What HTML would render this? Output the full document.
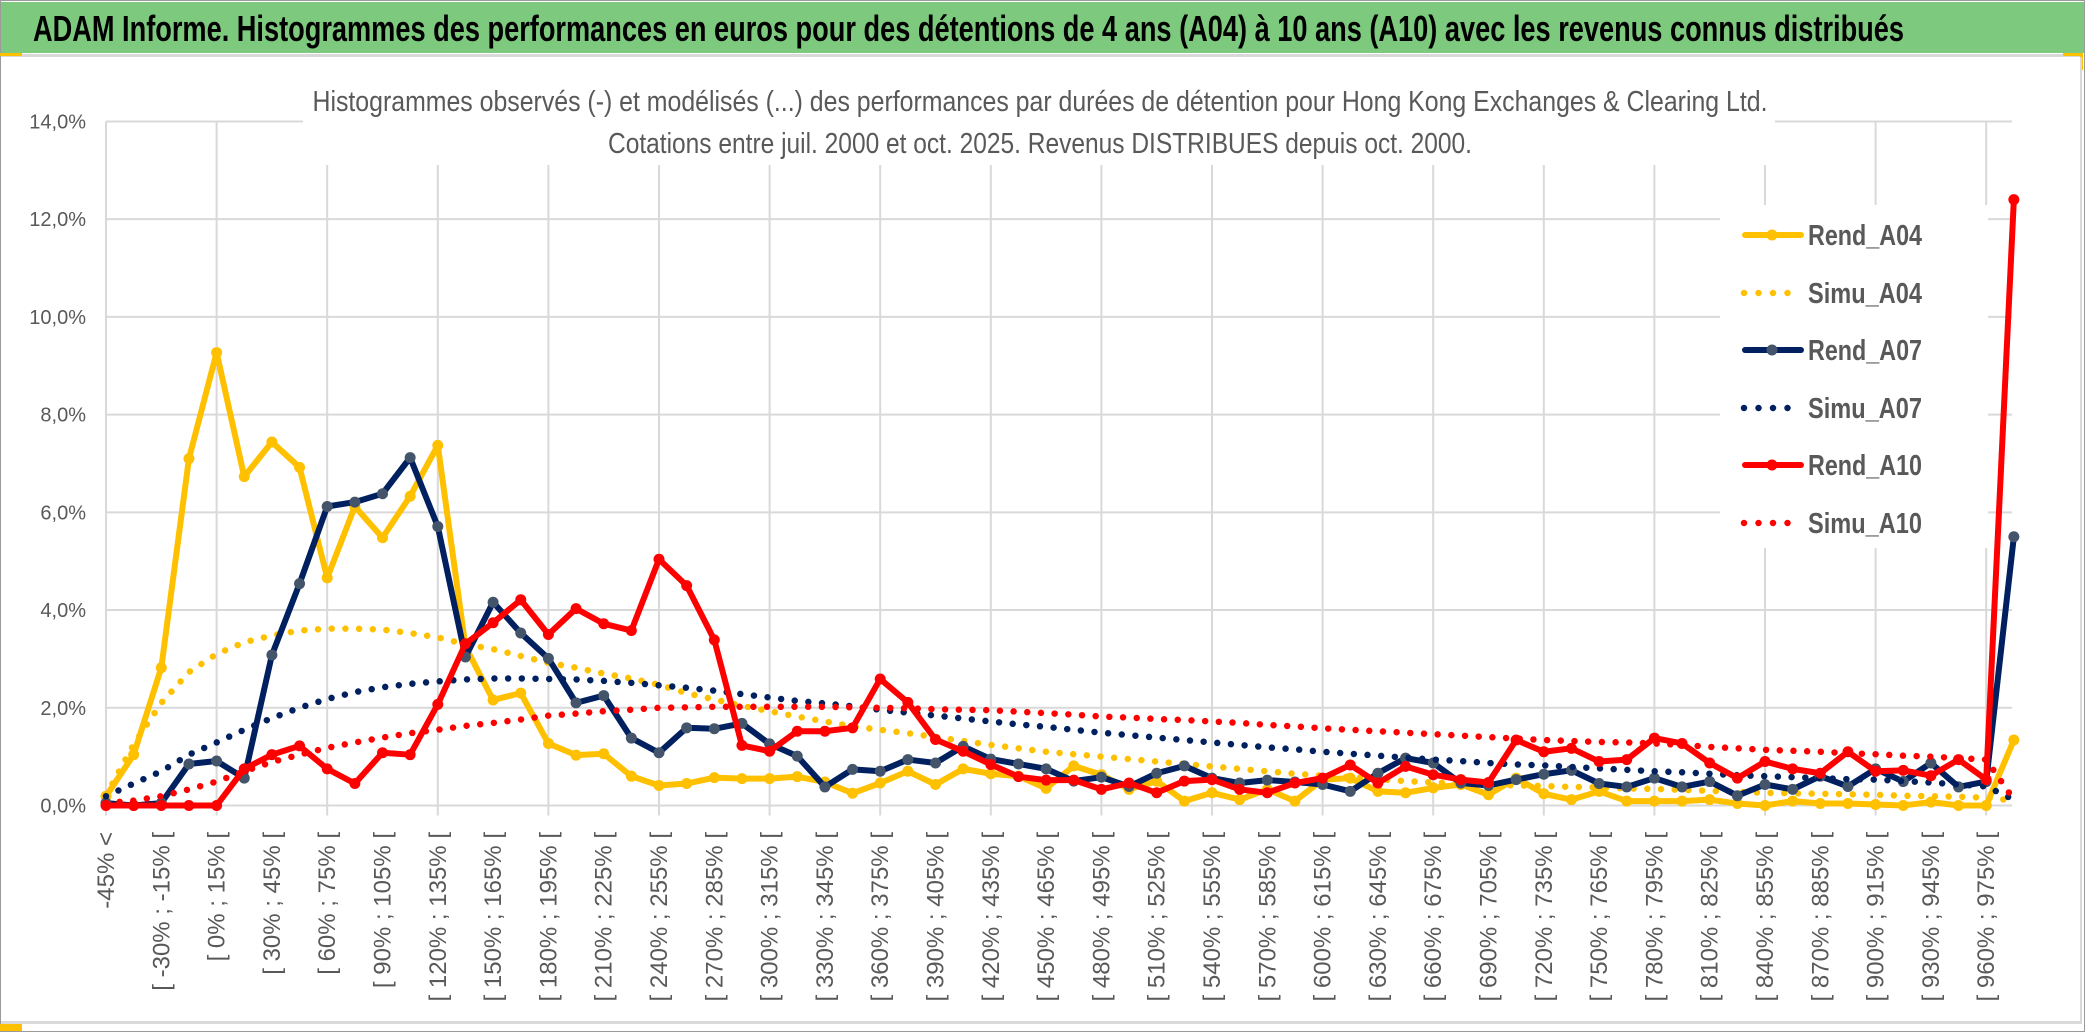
<!DOCTYPE html>
<html><head><meta charset="utf-8"><style>
html,body{margin:0;padding:0;background:#fff;}
svg{display:block;}
text{font-family:"Liberation Sans",sans-serif;}
</style></head><body>
<svg id="chart" width="2086" height="1033" viewBox="0 0 2086 1033" xmlns="http://www.w3.org/2000/svg">
<rect x="0" y="0" width="2086" height="1033" fill="#fff"/>
<rect x="0.5" y="0.5" width="2084" height="1031" fill="none" stroke="#9a9a9a" stroke-width="1"/>
<rect x="1" y="2" width="2083" height="51" fill="#7dc97e"/>
<text x="33" y="41" font-size="36" font-weight="bold" fill="#000" textLength="1871" lengthAdjust="spacingAndGlyphs">ADAM Informe. Histogrammes des performances en euros pour des détentions de 4 ans (A04) à 10 ans (A10) avec les revenus connus distribués</text>
<rect x="1" y="54" width="2081" height="3" fill="#d9d9d9"/>
<rect x="0" y="53" width="22" height="3" fill="#ffc000"/>
<rect x="2063" y="53" width="20" height="3" fill="#ffc000"/>
<rect x="2080" y="53" width="3" height="17" fill="#ffc000"/>
<line x1="2081" y1="57" x2="2081" y2="1022" stroke="#d9d9d9" stroke-width="2"/>
<rect x="1" y="1021" width="2081" height="3" fill="#d9d9d9"/>
<rect x="0" y="1024" width="22" height="7" fill="#ffc000"/>
<g id="grid"></g>
<rect x="303" y="60" width="1472" height="105" fill="#fff"/>
<text x="1040" y="111" font-size="29" fill="#595959" text-anchor="middle" textLength="1455" lengthAdjust="spacingAndGlyphs">Histogrammes observés (-) et modélisés (...) des performances par durées de détention pour Hong Kong Exchanges &amp; Clearing Ltd.</text>
<text x="1040" y="153" font-size="29" fill="#595959" text-anchor="middle" textLength="864" lengthAdjust="spacingAndGlyphs">Cotations entre juil. 2000 et oct. 2025. Revenus DISTRIBUES depuis oct. 2000.</text>
<g id="yaxis"></g>
<g id="xaxis"></g>
<g id="series"></g>
<rect x="1720" y="205" width="268" height="343" fill="#fff"/>
<g id="legend"></g>
</svg>
<script>
const rendA04 = [0.19,1.04,2.82,7.1,9.27,6.73,7.44,6.92,4.66,6.12,5.48,6.33,7.37,3.25,2.16,2.3,1.27,1.03,1.06,0.6,0.41,0.45,0.57,0.55,0.55,0.59,0.48,0.25,0.46,0.7,0.43,0.75,0.65,0.6,0.35,0.81,0.63,0.33,0.5,0.09,0.26,0.12,0.33,0.09,0.53,0.56,0.29,0.26,0.36,0.43,0.22,0.56,0.24,0.12,0.29,0.09,0.09,0.09,0.12,0.04,0.0,0.09,0.04,0.04,0.02,0.0,0.07,0.0,0.0,1.34];
const simuA04 = [0.2,1.25,2.1,2.73,3.1,3.34,3.48,3.58,3.62,3.62,3.6,3.53,3.44,3.3,3.2,3.06,2.92,2.82,2.7,2.6,2.47,2.3,2.17,2.04,1.93,1.82,1.72,1.62,1.55,1.48,1.4,1.32,1.24,1.17,1.1,1.05,1.0,0.95,0.9,0.85,0.8,0.75,0.7,0.65,0.61,0.58,0.54,0.5,0.47,0.45,0.43,0.41,0.4,0.38,0.37,0.35,0.34,0.32,0.3,0.28,0.26,0.25,0.24,0.23,0.22,0.2,0.19,0.18,0.16,0.1];
const rendA07 = [0.05,0.0,0.05,0.85,0.91,0.56,3.08,4.54,6.12,6.21,6.38,7.12,5.71,3.04,4.16,3.53,3.01,2.1,2.25,1.38,1.08,1.59,1.57,1.68,1.26,1.01,0.38,0.74,0.7,0.94,0.87,1.21,0.95,0.85,0.75,0.5,0.58,0.39,0.66,0.81,0.56,0.46,0.52,0.48,0.43,0.29,0.66,0.97,0.87,0.46,0.41,0.53,0.64,0.72,0.45,0.38,0.56,0.38,0.49,0.2,0.43,0.33,0.6,0.39,0.75,0.49,0.87,0.38,0.49,5.5];
const simuA07 = [0.19,0.45,0.7,1.04,1.29,1.55,1.79,2.0,2.18,2.32,2.42,2.49,2.54,2.58,2.6,2.6,2.59,2.58,2.55,2.51,2.46,2.41,2.35,2.28,2.21,2.14,2.09,2.03,1.96,1.9,1.84,1.78,1.72,1.66,1.61,1.55,1.49,1.44,1.39,1.34,1.29,1.24,1.19,1.15,1.1,1.06,1.02,0.98,0.94,0.91,0.87,0.84,0.82,0.79,0.76,0.73,0.7,0.68,0.65,0.62,0.6,0.58,0.56,0.54,0.53,0.5,0.47,0.43,0.39,0.12];
const rendA10 = [0,0,0,0,0,0.75,1.04,1.22,0.75,0.45,1.08,1.04,2.07,3.31,3.74,4.21,3.5,4.03,3.72,3.58,5.04,4.5,3.39,1.23,1.11,1.52,1.52,1.59,2.59,2.11,1.35,1.11,0.84,0.59,0.52,0.52,0.33,0.46,0.26,0.5,0.53,0.33,0.26,0.46,0.56,0.83,0.46,0.8,0.63,0.53,0.47,1.34,1.1,1.17,0.9,0.94,1.38,1.27,0.87,0.56,0.9,0.75,0.66,1.1,0.7,0.72,0.61,0.94,0.53,12.4];
const simuA10 = [0.05,0.1,0.19,0.33,0.49,0.7,0.89,1.04,1.18,1.29,1.39,1.48,1.55,1.63,1.69,1.76,1.84,1.88,1.93,1.96,2.0,2.01,2.02,2.02,2.02,2.02,2.02,2.01,2.0,1.99,1.97,1.96,1.95,1.92,1.89,1.86,1.82,1.8,1.77,1.75,1.72,1.69,1.65,1.62,1.58,1.55,1.52,1.49,1.46,1.43,1.4,1.37,1.34,1.32,1.3,1.29,1.27,1.24,1.2,1.17,1.14,1.12,1.1,1.07,1.05,1.02,1.0,0.97,0.94,0.12];
const yTicks = [0,2,4,6,8,10,12,14];
const yTickLabels = ["0,0%","2,0%","4,0%","6,0%","8,0%","10,0%","12,0%","14,0%"];
const categoryCount = 70;
const categoryStart = -45;
const categoryStep = 15;
const seriesNames = ["Rend_A04","Simu_A04","Rend_A07","Simu_A07","Rend_A10","Simu_A10"];

const NS = "http://www.w3.org/2000/svg";
const X0 = 106, XSTEP = 27.65, Y0 = 805.5, YPER = 48.86, XRIGHT = 2012;
function xPos(i){ return X0 + i*XSTEP; }
function yPos(v){ return Y0 - v*YPER; }
function mk(tag, attrs, parent){
  const e = document.createElementNS(NS, tag);
  for (const k in attrs) e.setAttribute(k, attrs[k]);
  parent.appendChild(e);
  return e;
}
function catLabel(i){
  if (i === 0) return "-45% <";
  const a = categoryStart + categoryStep*(i-1);
  return "[ " + a + "% ; " + (a+categoryStep) + "% [";
}

const grid = document.getElementById("grid");
yTicks.forEach(function(t){
  const l = mk("line", {x1:X0, x2:XRIGHT, y1:yPos(t), y2:yPos(t), stroke:"#d9d9d9", "stroke-width":2}, grid);
  
  
});
for (let i = 0; i < categoryCount; i += 4){
  const l = mk("line", {x1:xPos(i), x2:xPos(i), y1:yPos(14), y2:yPos(0)+10, stroke:"#d9d9d9", "stroke-width":2}, grid);
  
  
}

const yaxis = document.getElementById("yaxis");
yTicks.forEach(function(t, k){
  const tx = mk("text", {x:86, y:yPos(t)+7, "font-size":20, fill:"#595959", "text-anchor":"end"}, yaxis);
  tx.textContent = yTickLabels[k];
  
  
});

const xaxis = document.getElementById("xaxis");
for (let i = 0; i < categoryCount; i += 2){
  const x = xPos(i) + 8;
  const tx = mk("text", {x:0, y:0, "font-size":24, fill:"#595959", "text-anchor":"end", transform:"translate(" + x + ",832) rotate(-90)"}, xaxis);
  tx.textContent = catLabel(i);
  
  
}

const seriesLayer = document.getElementById("series");
function pathFor(arr){
  return arr.map(function(v, i){ return (i ? "L" : "M") + xPos(i).toFixed(2) + "," + yPos(v).toFixed(2); }).join(" ");
}
function drawRend(arr, color, markerColor, name){
  const g = mk("g", {}, seriesLayer);
  
  
  const p = mk("path", {d:pathFor(arr), fill:"none", stroke:color, "stroke-width":6, "stroke-linejoin":"round", "stroke-linecap":"round"}, g);
  
  
  arr.forEach(function(v, i){
    const c = mk("circle", {cx:xPos(i), cy:yPos(v), r:5.5, fill:markerColor}, g);
    
    
  });
}
function drawSimu(arr, color, name){
  const p = mk("path", {d:pathFor(arr), fill:"none", stroke:color, "stroke-width":6.5, "stroke-linecap":"round", "stroke-linejoin":"round", "stroke-dasharray":"0 13.7"}, seriesLayer);
  
  
}
drawRend(rendA04, "#ffc000", "#ffc000", "rend-a04");
drawSimu(simuA04, "#ffc000", "simu-a04");
drawRend(rendA07, "#002060", "#44546a", "rend-a07");
drawSimu(simuA07, "#002060", "simu-a07");
drawRend(rendA10, "#ff0000", "#ff0000", "rend-a10");
drawSimu(simuA10, "#ff0000", "simu-a10");

const legend = document.getElementById("legend");
const legendY = [235, 293, 350, 408, 465, 523];
const legendColors = ["#ffc000","#ffc000","#002060","#002060","#ff0000","#ff0000"];
const legendMarkers = ["#ffc000",null,"#44546a",null,"#ff0000",null];
seriesNames.forEach(function(nm, k){
  const g = mk("g", {}, legend);
  
  
  const y = legendY[k];
  if (legendMarkers[k]){
    mk("line", {x1:1745, x2:1801, y1:y, y2:y, stroke:legendColors[k], "stroke-width":6, "stroke-linecap":"round"}, g);
    mk("circle", {cx:1772, cy:y, r:5.5, fill:legendMarkers[k]}, g);
  } else {
    mk("line", {x1:1744, x2:1800, y1:y, y2:y, stroke:legendColors[k], "stroke-width":6.5, "stroke-linecap":"round", "stroke-dasharray":"0 14.5"}, g);
  }
  const tx = mk("text", {x:1808, y:y+10, "font-size":29, "font-weight":600, fill:"#595959", textLength:114, lengthAdjust:"spacingAndGlyphs"}, g);
  tx.textContent = nm;
});
</script>
</body></html>
